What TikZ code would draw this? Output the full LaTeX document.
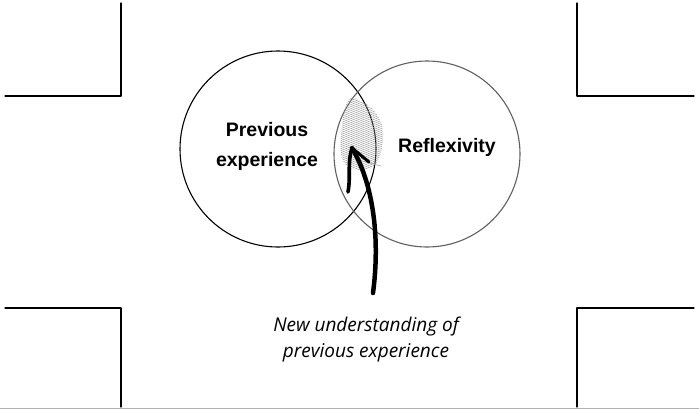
\documentclass[tikz,border=0pt]{standalone}
\usepackage{fontspec}
\setmainfont{Liberation Sans}
\newfontfamily\handfont{Open Sans}
\begin{document}
\begin{tikzpicture}[x=1pt,y=-1pt,line join=round,line cap=round,
  corner/.style={line width=1.3pt},
  ring/.style={circle,draw,line width=1.1pt,minimum size=196pt,inner sep=0pt},
  tag/.style={font=\fontsize{19.5}{30}\selectfont\bfseries,align=center},
  hand/.style={font=\handfont\itshape\fontsize{19}{26}\selectfont,align=center}]
	\useasboundingbox (0,0) rectangle (699,413);
	\draw[corner] (5,96) -- (121,96) -- (121,3);
	\draw[corner] (694,96) -- (577,96) -- (577,3);
	\draw[corner] (5,308) -- (121,308) -- (121,407);
	\draw[corner] (694,308) -- (577,308) -- (577,407);
	\draw[gray!60,line width=1pt] (0,408.5) -- (699,408.5);
	\node[ring] (prev) at (278,149) {};
	\node[ring,draw=gray!75!black,minimum size=186pt] (refl) at (427,154) {};
	\node[tag] at (267,146) {Previous\\experience};
	\node[tag] at (447,147) {Reflexivity};
	\begin{scope}
		\clip (352,97) .. controls (372,104) and (385,118) .. (383,140) .. controls (381,160) and (376,170) .. (360,170) .. controls (345,170) and (338,160) .. (341,135) .. controls (343,115) and (345,100) .. (352,97);
		\foreach \y in {70,72,...,190}
			\draw[gray!75,line width=0.5pt] (330,\y) -- (395,\y+26);
	\end{scope}
	\draw[gray!70,line width=0.6pt] (358,160) -- (381,166);
	\coordinate (tip) at (352,148);
	\coordinate (foot) at (373,293);
	\draw[line width=4.5pt] (foot) .. controls (380,240) and (374,185) .. (tip);
	\draw[line width=3.6pt] (tip) .. controls (347,165) and (351,175) .. (348,192);
	\draw[line width=3pt] (tip) -- (369,162);
	\node[hand] (cap) at (366,339) {New understanding of\\previous experience};
\end{tikzpicture}
\end{document}
